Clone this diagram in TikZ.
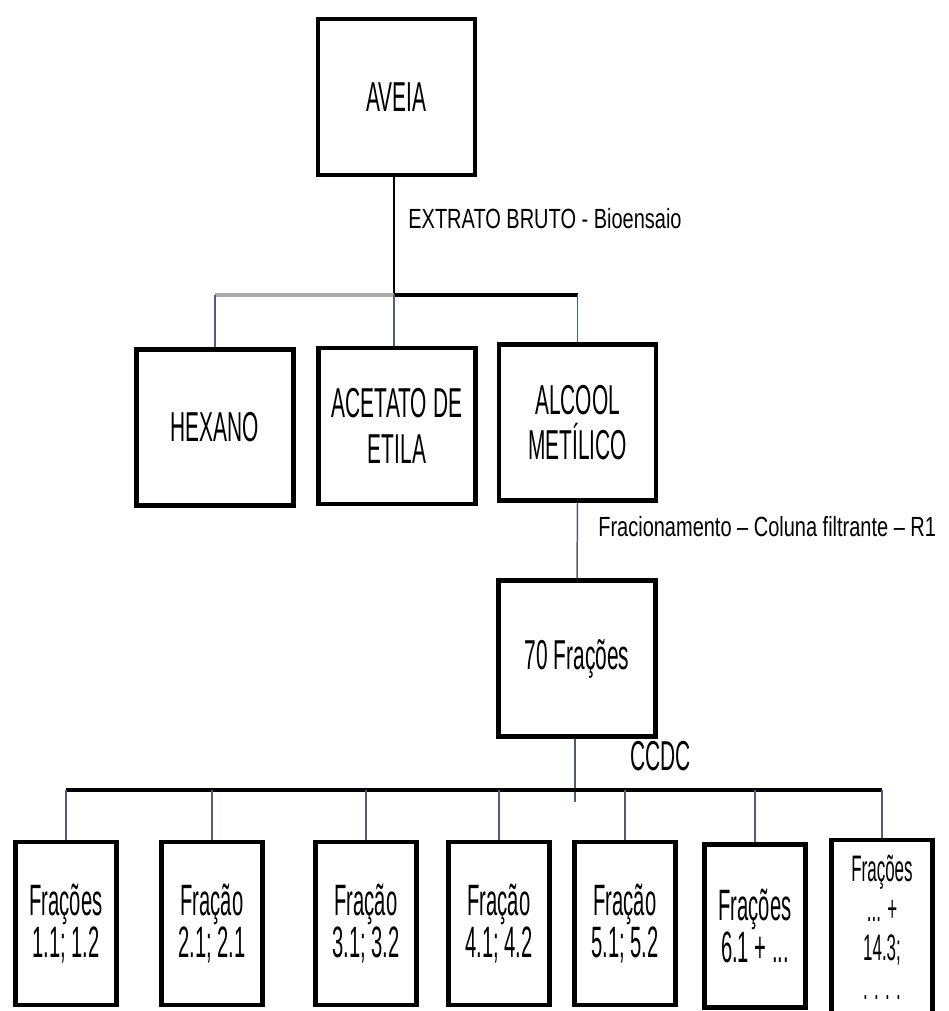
\documentclass[tikz,border=0pt]{standalone}
\usepackage{fontspec}
\setmainfont{Liberation Sans}
\newfontfamily\boxfont[FakeStretch=0.5]{Liberation Sans}
\newfontfamily\fracfont[FakeStretch=0.46]{Liberation Sans}
\newfontfamily\labfont[FakeStretch=0.72]{Liberation Sans}
\usetikzlibrary{positioning}
\definecolor{linkgray}{RGB}{78,94,118}
\tikzset{
  stage/.style={draw, line width=2.5pt, minimum width=3.14cm, minimum height=3.12cm,
    align=center, inner sep=0pt, font=\boxfont\fontsize{23.8}{26}\selectfont},
  fracbox/.style={draw, line width=2.5pt, minimum width=2.02cm, minimum height=3.26cm,
    align=center, inner sep=0pt, font=\fracfont\fontsize{25}{21}\selectfont},
  link/.style={linkgray, line width=0.85pt},
  busln/.style={line width=2.6pt},
  note/.style={anchor=base west, inner sep=0pt, font=\labfont\fontsize{15.8}{18}\selectfont},
}

\begin{document}
\begin{tikzpicture}[x=0.02cm, y=-0.02cm]
    \clip (0,0) rectangle (948,1011);
    % first level
    \node[stage] (aveia) at (396.5,97) {AVEIA};
    \node[stage] (hexano) at (215,427.5) {HEXANO};
    \node[stage] (acetato) at (397,426) {ACETATO DE\\ETILA};
    \node[stage] (alcool) at (577.5,422.5) {ALCOOL\\METÍLICO};
    \node[stage] (frac70) at (577,658.5) {70 Frações};
    % fractions
    \node[fracbox] (f1) at (66,923.5) {Frações\\1.1; 1.2};
    \node[fracbox] (f2) at (212,923.5) {Fração\\2.1; 2.1};
    \node[fracbox] (f3) at (366,923.5) {Fração\\3.1; 3.2};
    \node[fracbox] (f4) at (499,923.5) {Fração\\4.1; 4.2};
    \node[fracbox] (f5) at (625,923.5) {Fração\\5.1; 5.2};
    \node[fracbox] (f6) at (755,926) {Frações\\6.1 + ...};
    \node[fracbox, minimum height=3.5cm, font=\fracfont\fontsize{21}{22.4}\selectfont]
      (f7) at (882,927.5) {Frações\\... +\\14.3;\\. . . .};
    % top bus
    \coordinate (hub) at (394,295);
    \draw[link, black] (aveia.south -| hub) -- (hub);
    \draw[busln, gray!65] (hexano.north |- hub) -- (hub);
    \draw[busln] (hub) -- (alcool.north |- hub);
    \draw[link] (hexano.north |- hub) -- (hexano.north);
    \draw[link] (hub) -- (acetato.north -| hub);
    \draw[link] (alcool.north |- hub) -- (alcool.north);
    \node[note] (extrato) at (408,228) {EXTRATO BRUTO - Bioensaio};
    % fractionation
    \draw[link] (alcool.south) -- (frac70.north);
    \node[note] (fracion) at (598,536) {Fracionamento – Coluna filtrante – R1};
    % bottom bus
    \coordinate (lowbus) at (575,790);
    \coordinate (ccdcend) at (575,802);
    \draw[link] (frac70.south -| lowbus) -- (ccdcend);
    \draw[busln] (f1.north |- lowbus) -- (f7.north |- lowbus);
    \foreach \k in {1,...,7}
      \draw[link] (f\k.north |- lowbus) -- (f\k.north);
    \node[note, font=\boxfont\fontsize{23.8}{26}\selectfont] (ccdc) at (630,770) {CCDC};
\end{tikzpicture}
\end{document}
